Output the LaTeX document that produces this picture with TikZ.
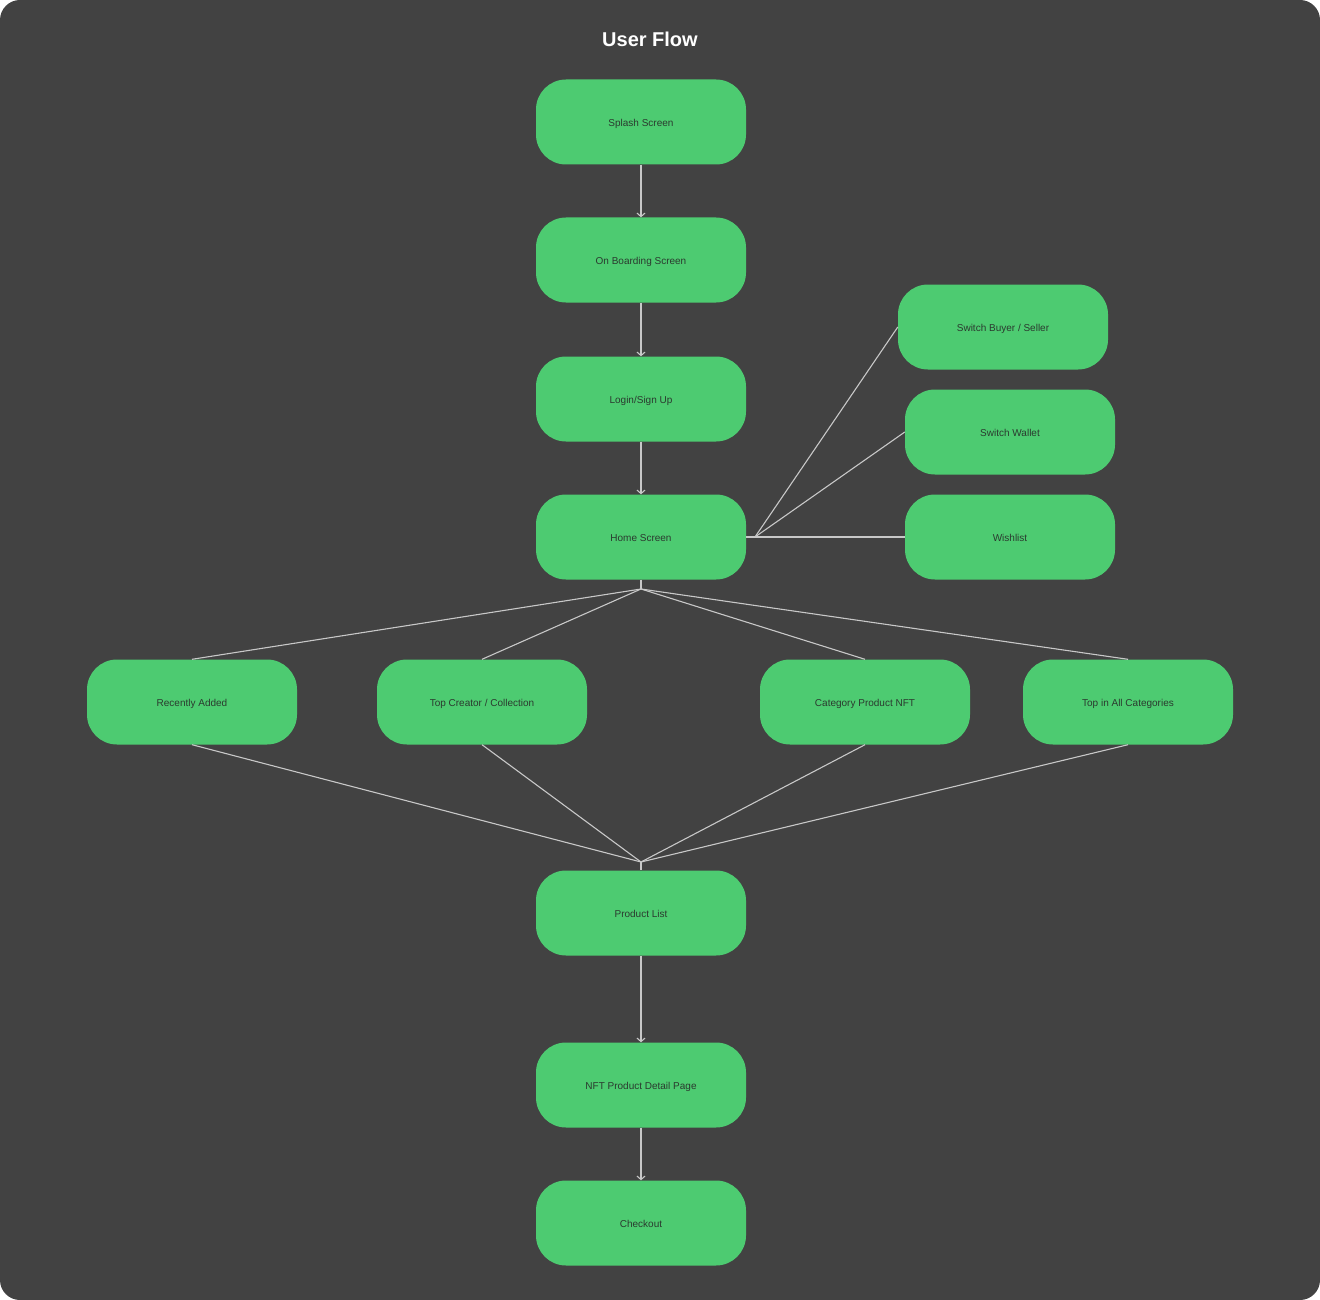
\documentclass[tikz,border=0pt]{standalone}
\usepackage{fontspec}
\setmainfont{Liberation Sans}
\usetikzlibrary{arrows.meta}
\definecolor{canvas}{HTML}{424242}
\definecolor{screen}{HTML}{4DCB71}
\definecolor{wire}{HTML}{C8C8C8}
\definecolor{ink}{HTML}{2B3A2F}
\begin{document}
\begin{tikzpicture}[x=1pt,y=-1pt,
  screenbox/.style={fill=screen, draw=none, rounded corners=30pt,
    minimum width=210pt, minimum height=85pt, inner sep=0pt,
    text height=9.5pt, text depth=0pt,
    font=\fontsize{10}{12}\selectfont, text=ink},
  link/.style={draw=wire, line width=1.1pt},
  flow/.style={link, -{Straight Barb[length=3.5pt,width=8pt,line width=1.1pt]}}
]
% page and dark card
\fill[white] (0,0) rectangle (1320,1300);
\useasboundingbox (0,0) rectangle (1320,1300);
\fill[canvas, rounded corners=20pt] (0,0) rectangle (1320,1300);

% title
\node[text=white, font=\bfseries\fontsize{20}{24}\selectfont] (title) at (650,39) {User Flow};

% main column
\node[screenbox] (splash)   at (641,122)  {Splash Screen};
\node[screenbox] (onboard)  at (641,260)  {On Boarding Screen};
\node[screenbox] (login)    at (641,399)  {Login/Sign Up};
\node[screenbox] (home)     at (641,537)  {Home Screen};

% side screens
\node[screenbox] (switchrole)   at (1003,327) {Switch Buyer / Seller};
\node[screenbox] (switchwallet) at (1010,432) {Switch Wallet};
\node[screenbox] (wishlist)     at (1010,537) {Wishlist};

% browse row
\node[screenbox] (recent)   at (192,702)  {Recently Added};
\node[screenbox] (creator)  at (482,702)  {Top Creator / Collection};
\node[screenbox] (category) at (865,702)  {Category Product NFT};
\node[screenbox] (topall)   at (1128,702) {Top in All Categories};

% purchase column
\node[screenbox] (plist)    at (641,913)  {Product List};
\node[screenbox] (detail)   at (641,1085) {NFT Product Detail Page};
\node[screenbox] (checkout) at (641,1223) {Checkout};

% straight steps
\draw[flow] (splash.south) -- (onboard.north);
\draw[flow] (onboard.south) -- (login.north);
\draw[flow] (login.south) -- (home.north);
\draw[flow] (plist.south) -- (detail.north);
\draw[flow] (detail.south) -- (checkout.north);

% home to side screens
\coordinate (sidefork) at (755,537);
\draw[link] (home.east) -- (sidefork);
\draw[link] (sidefork) -- (switchrole.west);
\draw[link] (sidefork) -- (switchwallet.west);
\draw[link] (sidefork) -- (wishlist.west);

% home to browse row
\coordinate (downfork) at (641,589);
\draw[link] (home.south) -- (downfork);
\foreach \n in {recent,creator,category,topall}
  \draw[link] (downfork) -- (\n.north);

% browse row to product list
\coordinate (joinpoint) at (641,862);
\foreach \n in {recent,creator,category,topall}
  \draw[link] (\n.south) -- (joinpoint);
\draw[link] (joinpoint) -- (plist.north);
\end{tikzpicture}
\end{document}
